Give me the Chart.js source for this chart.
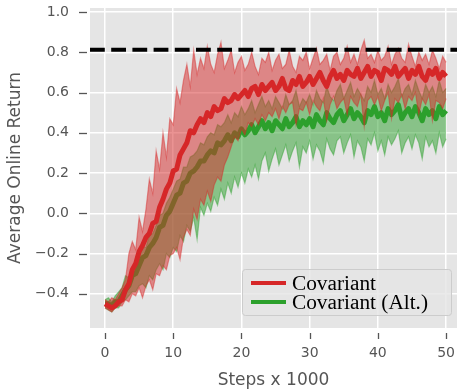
<!DOCTYPE html>
<html>
<head>
<meta charset="utf-8">
<script src="https://cdn.jsdelivr.net/npm/chart.js@4.4.1/dist/chart.umd.min.js"></script>
<style>
  html, body { margin: 0; padding: 0; background: #ffffff; }
  #wrap { width: 457px; height: 391px; }
</style>
</head>
<body>
<div id="wrap"><canvas id="chartRetorno" width="457" height="391"></canvas></div>
<script>
// ========================================
// 📊 DATOS (paso = 0.5 x 1000)
// ========================================
const xTicks = [0, 10, 20, 30, 40, 50];
const yTicks = [-0.4, -0.2, 0.0, 0.2, 0.4, 0.6, 0.8, 1.0];
const seriesNames = ['Covariant', 'Covariant (Alt.)'];
const threshold = 0.813;

const redMean = [
  -0.45, -0.46, -0.47, -0.46, -0.44, -0.43, -0.38, -0.35, -0.28, -0.25,
  -0.19, -0.16, -0.12, -0.10, -0.05, -0.04, 0.03, 0.07, 0.12, 0.15,
  0.21, 0.22, 0.29, 0.32, 0.35, 0.41, 0.40, 0.44, 0.47, 0.45,
  0.50, 0.48, 0.53, 0.51, 0.52, 0.57, 0.55, 0.56, 0.59, 0.57,
  0.59, 0.61, 0.58, 0.62, 0.63, 0.59, 0.64, 0.61, 0.63, 0.65,
  0.61, 0.63, 0.67, 0.62, 0.61, 0.66, 0.64, 0.68, 0.63, 0.65,
  0.68, 0.64, 0.67, 0.70, 0.66, 0.63, 0.68, 0.71, 0.67, 0.69,
  0.66, 0.71, 0.69, 0.68, 0.72, 0.67, 0.70, 0.73, 0.68, 0.71,
  0.70, 0.66, 0.72, 0.71, 0.69, 0.73, 0.68, 0.70, 0.72, 0.67,
  0.71, 0.69, 0.73, 0.68, 0.66, 0.71, 0.69, 0.72, 0.67, 0.70,
  0.68
];
const redUpper = [
  -0.43, -0.44, -0.42, -0.43, -0.40, -0.37, -0.33, -0.20, -0.14, -0.18,
  -0.02, -0.09, 0.02, 0.17, 0.10, 0.31, 0.22, 0.40, 0.28, 0.47,
  0.44, 0.62, 0.55, 0.66, 0.74, 0.63, 0.81, 0.69, 0.77, 0.72,
  0.83, 0.74, 0.70, 0.79, 0.85, 0.72, 0.76, 0.81, 0.70, 0.75,
  0.78, 0.71, 0.74, 0.80, 0.73, 0.69, 0.77, 0.75, 0.80, 0.71,
  0.76, 0.79, 0.72, 0.74, 0.81, 0.73, 0.70, 0.78, 0.76, 0.80,
  0.72, 0.77, 0.82, 0.74, 0.76, 0.79, 0.71, 0.78, 0.80, 0.74,
  0.77, 0.83, 0.75, 0.79, 0.74, 0.81, 0.86, 0.77, 0.79, 0.75,
  0.81, 0.76, 0.78, 0.83, 0.74, 0.79, 0.82, 0.77, 0.75, 0.84,
  0.78, 0.73, 0.80, 0.76, 0.79, 0.74, 0.81, 0.77, 0.72, 0.78,
  0.75
];
const redLower = [
  -0.47, -0.48, -0.49, -0.47, -0.46, -0.46, -0.43, -0.44, -0.40, -0.41,
  -0.37, -0.42, -0.36, -0.33, -0.38, -0.30, -0.31, -0.26, -0.28, -0.21,
  -0.20, -0.17, -0.23, -0.12, -0.08, -0.11, 0.02, -0.03, 0.07, 0.04,
  0.11, 0.06, 0.14, 0.18, 0.16, 0.24, 0.28, 0.33, 0.38, 0.36,
  0.42, 0.39, 0.45, 0.43, 0.47, 0.44, 0.49, 0.46, 0.50, 0.48,
  0.52, 0.47, 0.53, 0.50, 0.54, 0.55, 0.44, 0.52, 0.51, 0.55,
  0.49, 0.56, 0.53, 0.51, 0.57, 0.46, 0.54, 0.58, 0.52, 0.55,
  0.57, 0.49, 0.58, 0.55, 0.53, 0.59, 0.43, 0.56, 0.58, 0.54,
  0.58, 0.51, 0.56, 0.60, 0.47, 0.57, 0.55, 0.59, 0.52, 0.58,
  0.56, 0.60, 0.49, 0.57, 0.54, 0.59, 0.46, 0.56, 0.55, 0.52,
  0.57
];

const greenMean = [
  -0.45, -0.45, -0.46, -0.44, -0.44, -0.41, -0.38, -0.36, -0.31, -0.30,
  -0.26, -0.22, -0.21, -0.17, -0.15, -0.12, -0.07, -0.06, -0.01, 0.01,
  0.05, 0.09, 0.10, 0.15, 0.16, 0.20, 0.21, 0.23, 0.26, 0.26,
  0.29, 0.31, 0.30, 0.35, 0.34, 0.36, 0.39, 0.36, 0.40, 0.38,
  0.42, 0.39, 0.41, 0.44, 0.40, 0.43, 0.46, 0.42, 0.45, 0.41,
  0.46, 0.44, 0.42, 0.47, 0.43, 0.45, 0.48, 0.43, 0.46, 0.44,
  0.47, 0.43, 0.49, 0.46, 0.44, 0.50, 0.47, 0.45, 0.49, 0.51,
  0.46, 0.49, 0.52, 0.47, 0.50, 0.48, 0.45, 0.51, 0.49, 0.53,
  0.48, 0.50, 0.46, 0.52, 0.49, 0.51, 0.54, 0.47, 0.50, 0.52,
  0.48, 0.53, 0.50, 0.46, 0.52, 0.49, 0.51, 0.47, 0.53, 0.49,
  0.51
];
const greenUpper = [
  -0.43, -0.42, -0.44, -0.41, -0.39, -0.37, -0.31, -0.32, -0.27, -0.25,
  -0.22, -0.17, -0.17, -0.11, -0.10, -0.06, -0.01, 0.00, 0.05, 0.08,
  0.12, 0.16, 0.17, 0.23, 0.23, 0.28, 0.29, 0.31, 0.35, 0.34,
  0.38, 0.40, 0.39, 0.44, 0.43, 0.45, 0.49, 0.45, 0.50, 0.48,
  0.53, 0.49, 0.52, 0.56, 0.50, 0.54, 0.58, 0.53, 0.56, 0.52,
  0.58, 0.55, 0.52, 0.59, 0.54, 0.56, 0.61, 0.53, 0.57, 0.55,
  0.59, 0.54, 0.61, 0.57, 0.55, 0.63, 0.58, 0.56, 0.61, 0.64,
  0.57, 0.61, 0.65, 0.58, 0.62, 0.59, 0.56, 0.63, 0.60, 0.66,
  0.59, 0.62, 0.57, 0.64, 0.60, 0.63, 0.67, 0.58, 0.62, 0.64,
  0.59, 0.66, 0.61, 0.57, 0.64, 0.60, 0.63, 0.58, 0.66, 0.60,
  0.62
];
const greenLower = [
  -0.47, -0.48, -0.49, -0.47, -0.47, -0.44, -0.43, -0.41, -0.39, -0.39,
  -0.36, -0.35, -0.37, -0.31, -0.33, -0.28, -0.25, -0.28, -0.20, -0.22,
  -0.17, -0.19, -0.11, -0.14, -0.06, -0.09, -0.02, -0.13, 0.03, -0.01,
  0.05, 0.01, 0.08, 0.04, 0.12, 0.07, 0.15, 0.10, 0.18, 0.13,
  0.20, 0.15, 0.22, 0.18, 0.24, 0.17, 0.26, 0.30, 0.21, 0.27,
  0.32, 0.24, 0.29, 0.34, 0.26, 0.31, 0.35, 0.23, 0.33, 0.30,
  0.36, 0.27, 0.34, 0.31, 0.25, 0.37, 0.32, 0.29, 0.36, 0.38,
  0.30, 0.35, 0.39, 0.28, 0.36, 0.33, 0.26, 0.37, 0.34, 0.40,
  0.31, 0.36, 0.29, 0.38, 0.34, 0.37, 0.41, 0.30, 0.35, 0.38,
  0.32, 0.39, 0.35, 0.27, 0.38, 0.33, 0.36, 0.30, 0.40, 0.33,
  0.37
];

const steps = redMean.map((_, i) => i * 0.5);
const X_MIN = -2.2, X_MAX = 51.6;
const Y_MIN = -0.57, Y_MAX = 1.02;

const ROJO = '#d62728';
const VERDE = '#2ca02c';
const TEXTO = '#555555';

function puntos(valores) {
    return valores.map((v, i) => ({ x: steps[i], y: v }));
}

// ========================================
// 🎨 PLUGIN: fondo gris, marcas de eje y leyenda
// ========================================
const pluginEstilo = {
    id: 'estiloGgplot',
    beforeDraw(chart) {
        const { ctx, chartArea: a } = chart;
        ctx.save();
        ctx.fillStyle = '#e5e5e5';
        ctx.fillRect(a.left, a.top, a.right - a.left, a.bottom - a.top);
        ctx.restore();
    },
    afterDraw(chart) {
        const { ctx, chartArea: a, scales } = chart;
        ctx.save();
        ctx.strokeStyle = TEXTO;
        ctx.lineWidth = 1.3;
        // marcas eje x (separadas del area)
        xTicks.forEach(v => {
            const px = Math.round(scales.x.getPixelForValue(v)) + 0.5;
            ctx.beginPath();
            ctx.moveTo(px, a.bottom + 5);
            ctx.lineTo(px, a.bottom + 11);
            ctx.stroke();
        });
        // marcas eje y
        yTicks.forEach(v => {
            const py = Math.round(scales.y.getPixelForValue(v)) + 0.5;
            ctx.beginPath();
            ctx.moveTo(a.left - 11, py);
            ctx.lineTo(a.left - 3, py);
            ctx.stroke();
        });

        // leyenda abajo a la derecha
        const bx = 242, by = 269, bw = 209, bh = 46;
        ctx.fillStyle = 'rgba(229,229,229,0.8)';
        ctx.strokeStyle = '#cccccc';
        ctx.lineWidth = 1;
        ctx.beginPath();
        ctx.roundRect(bx + 0.5, by + 0.5, bw, bh, 3);
        ctx.fill();
        ctx.stroke();

        const colores = [ROJO, VERDE];
        const filas = [283, 302];
        let size = 20;
        ctx.font = size + 'px "Liberation Serif"';
        const w = ctx.measureText(seriesNames[1]).width;
        size = size * 136 / w;
        ctx.font = size.toFixed(1) + 'px "Liberation Serif"';
        ctx.textBaseline = 'middle';
        ctx.textAlign = 'left';
        seriesNames.forEach((name, i) => {
            ctx.strokeStyle = colores[i];
            ctx.lineWidth = 4;
            ctx.beginPath();
            ctx.moveTo(251, filas[i]);
            ctx.lineTo(286, filas[i]);
            ctx.stroke();
            ctx.fillStyle = '#000000';
            ctx.fillText(name, 292, filas[i] + 1);
        });
        ctx.restore();
    }
};

// ========================================
// 📈 GRAFICO
// ========================================
const ctx = document.getElementById('chartRetorno');
console.log('📊 Renderizando gráfico de retorno...');

const chartRetorno = new Chart(ctx, {
    type: 'line',
    data: {
        datasets: [
            { // 0 - linea umbral
                data: [{ x: X_MIN, y: threshold }, { x: X_MAX, y: threshold }],
                borderColor: '#000000', borderWidth: 4, borderDash: [14.8, 6.4],
                fill: false, order: 0
            },
            { // 1 - media roja
                data: puntos(redMean),
                borderColor: ROJO, borderWidth: 5, borderJoinStyle: 'round',
                fill: false, order: 1
            },
            { // 2 - banda roja superior
                data: puntos(redUpper),
                borderColor: 'rgba(214,39,40,0.45)', borderWidth: 1.2,
                backgroundColor: 'rgba(214,39,40,0.5)',
                fill: { target: 3 }, order: 2
            },
            { // 3 - banda roja inferior
                data: puntos(redLower),
                borderColor: 'rgba(214,39,40,0.45)', borderWidth: 1.2,
                fill: false, order: 3
            },
            { // 4 - media verde
                data: puntos(greenMean),
                borderColor: VERDE, borderWidth: 5, borderJoinStyle: 'round',
                fill: false, order: 4
            },
            { // 5 - banda verde superior
                data: puntos(greenUpper),
                borderColor: 'rgba(44,160,44,0.45)', borderWidth: 1.2,
                backgroundColor: 'rgba(44,160,44,0.5)',
                fill: { target: 6 }, order: 5
            },
            { // 6 - banda verde inferior
                data: puntos(greenLower),
                borderColor: 'rgba(44,160,44,0.45)', borderWidth: 1.2,
                fill: false, order: 6
            }
        ]
    },
    options: {
        responsive: false,
        devicePixelRatio: 1,
        animation: false,
        layout: { padding: { top: 8, right: 0, bottom: 0, left: 0 } },
        elements: { point: { radius: 0 }, line: { tension: 0 } },
        plugins: {
            legend: { display: false },
            tooltip: { enabled: false }
        },
        scales: {
            x: {
                type: 'linear',
                min: X_MIN,
                max: X_MAX,
                afterBuildTicks: s => { s.ticks = xTicks.map(v => ({ value: v })); },
                afterFit: s => { s.height = 63; s.paddingLeft = 0; s.paddingRight = 0; },
                grid: { color: '#ffffff', lineWidth: 1.5, drawTicks: false },
                border: { display: false },
                ticks: {
                    padding: 17, color: TEXTO, maxRotation: 0,
                    font: { family: 'DejaVu Sans', size: 14 },
                    callback: v => String(v)
                },
                title: {
                    display: true, text: 'Steps x 1000', color: TEXTO,
                    font: { family: 'DejaVu Sans', size: 17 },
                    padding: { top: 0, bottom: 0 }
                }
            },
            y: {
                type: 'linear',
                min: Y_MIN,
                max: Y_MAX,
                afterBuildTicks: s => { s.ticks = yTicks.map(v => ({ value: v })); },
                afterFit: s => { s.width = 90; s.paddingTop = 0; s.paddingBottom = 0; },
                grid: { color: '#ffffff', lineWidth: 1.5, drawTicks: false },
                border: { display: false },
                ticks: {
                    padding: 21, color: TEXTO,
                    font: { family: 'DejaVu Sans', size: 14 },
                    callback: v => v.toFixed(1).replace('-', '\u2212')
                },
                title: {
                    display: true, text: 'Average Online Return', color: TEXTO,
                    font: { family: 'DejaVu Sans', size: 17 },
                    padding: { top: 5, bottom: 0 }
                }
            }
        }
    },
    plugins: [pluginEstilo]
});

console.log('✅ Gráfico renderizado', chartRetorno.chartArea);
</script>
</body>
</html>
